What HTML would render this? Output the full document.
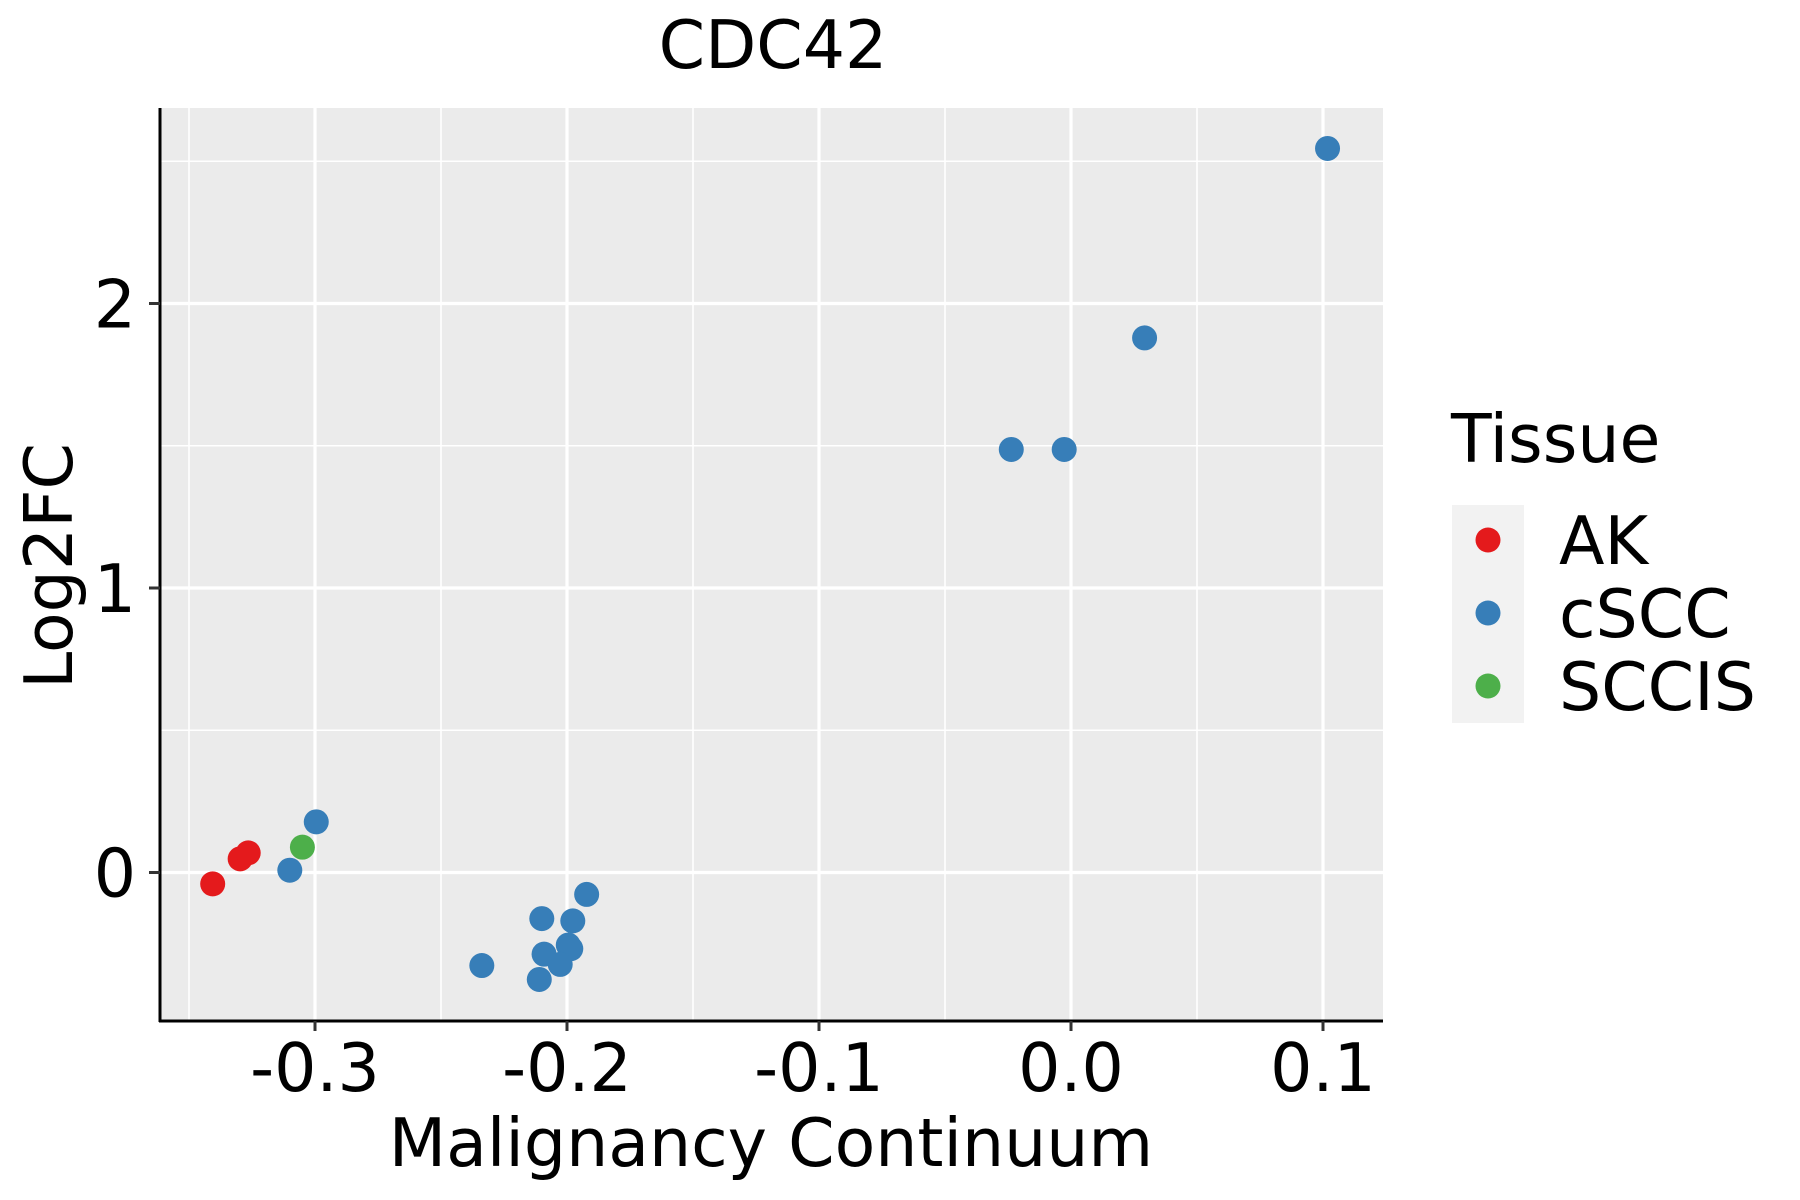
<!DOCTYPE html>
<html><head><meta charset="utf-8"><style>
html,body{margin:0;padding:0;background:#fff;}
svg{display:block;font-family:"DejaVu Sans","Liberation Sans",sans-serif;}
</style></head><body>
<svg id="chart" width="1800" height="1200" viewBox="0 0 1800 1200">
<rect x="160" y="108" width="1223" height="913" fill="#ebebeb"/>
<g id="grid"></g>
<g id="points"></g>
<line x1="160" y1="108" x2="160" y2="1022" stroke="#000" stroke-width="3"/>
<line x1="159" y1="1021" x2="1383" y2="1021" stroke="#000" stroke-width="3"/>
<g id="ticks"></g>
<text x="773" y="68" font-size="66.5" text-anchor="middle">CDC42</text>
<text x="771" y="1166" font-size="66.5" text-anchor="middle">Malignancy Continuum</text>
<text transform="translate(72,566) rotate(-90)" font-size="66.5" text-anchor="middle">Log2FC</text>
<g>
<text x="1451" y="462" font-size="66.5">Tissue</text>
<rect x="1452" y="505" width="72" height="218" fill="#f2f2f2"/>
<g id="legend-items"></g>
</g>
</svg>
<script>
const categories = ["AK","cSCC","SCCIS"];
const colors = ["#e41a1c","#377eb8","#4daf4a"];
const akX = [-0.3406,-0.3297,-0.3265];
const akY = [-0.04,0.048,0.069];
const sccisX = [-0.305];
const sccisY = [0.089];
const csccX = [-0.2995,-0.310,0.1018,0.0292,-0.0237,-0.0027,-0.1922,-0.210,-0.1977,-0.1995,-0.1985,-0.2091,-0.2027,-0.2338,-0.211];
const csccY = [0.178,0.008,2.545,1.879,1.487,1.487,-0.077,-0.162,-0.170,-0.255,-0.268,-0.287,-0.323,-0.327,-0.376];
const xTicks = [-0.3,-0.2,-0.1,0.0,0.1];
const xTickLabels = ["-0.3","-0.2","-0.1","0.0","0.1"];
const xMinor = [-0.35,-0.25,-0.15,-0.05,0.05];
const yTicks = [0,1,2];
const yTickLabels = ["0","1","2"];
const yMinor = [0.5,1.5,2.5];

const NS="http://www.w3.org/2000/svg";
function sx(v){return 1071 + v*2520;}
function sy(v){return 872.5 - v*284.5;}
function mk(tag, attrs, parent){const e=document.createElementNS(NS,tag);for(const k in attrs)e.setAttribute(k,attrs[k]);parent.appendChild(e);return e;}
const grid=document.getElementById('grid'), ticks=document.getElementById('ticks'), pts=document.getElementById('points');
xMinor.forEach(v=>{const l=mk('line',{x1:sx(v),x2:sx(v),y1:108,y2:1021,stroke:'#fff','stroke-width':1.6},grid);

});
yMinor.forEach(v=>{const l=mk('line',{x1:160,x2:1383,y1:sy(v),y2:sy(v),stroke:'#fff','stroke-width':1.6},grid);

});
xTicks.forEach((v,i)=>{const l=mk('line',{x1:sx(v),x2:sx(v),y1:108,y2:1021,stroke:'#fff','stroke-width':3.2},grid);


const t=mk('line',{x1:sx(v),x2:sx(v),y1:1021,y2:1031,stroke:'#333','stroke-width':3},ticks);


const tx=mk('text',{x:sx(v),y:1091,'font-size':66.5,'text-anchor':'middle'},ticks);tx.textContent=xTickLabels[i];

});
yTicks.forEach((v,i)=>{const l=mk('line',{x1:160,x2:1383,y1:sy(v),y2:sy(v),stroke:'#fff','stroke-width':3.2},grid);


const t=mk('line',{x1:149,x2:160,y1:sy(v),y2:sy(v),stroke:'#333','stroke-width':3},ticks);


const tx=mk('text',{x:136,y:sy(v)+24,'font-size':66.5,'text-anchor':'end'},ticks);tx.textContent=yTickLabels[i];

});
function drawSeries(xs,ys,ci,name){xs.forEach((x,i)=>{const c=mk('circle',{cx:sx(x),cy:sy(ys[i]),r:12.5,fill:colors[ci]},pts);

});}
drawSeries(csccX,csccY,1,'cscc');
drawSeries(akX,akY,0,'ak');
drawSeries(sccisX,sccisY,2,'sccis');
const li=document.getElementById('legend-items');
categories.forEach((c,i)=>{const y=540+i*73;
const d=mk('circle',{cx:1488,cy:y,r:12.5,fill:colors[i]},li);


const t=mk('text',{x:1559,y:y+24,'font-size':66.5},li);t.textContent=c;

});
</script>
</body></html>
